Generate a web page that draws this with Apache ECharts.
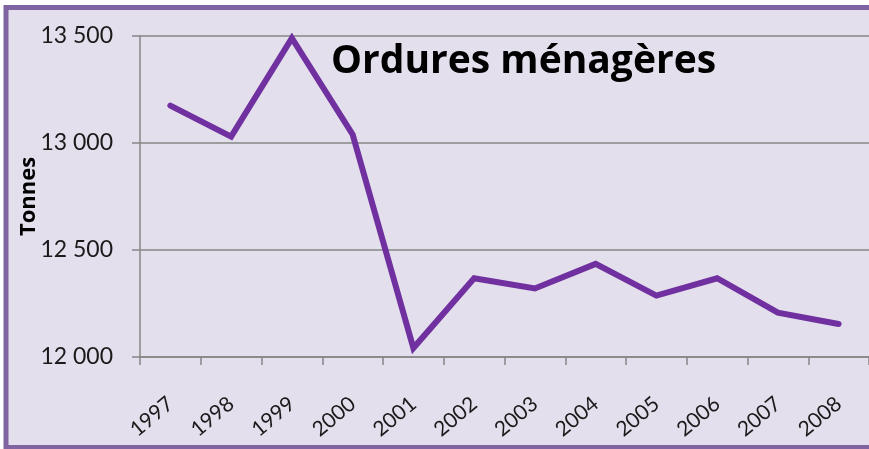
<!DOCTYPE html>
<html>
<head>
<meta charset="utf-8">
<script src="https://cdn.jsdelivr.net/npm/echarts@6/dist/echarts.min.js"></script>
<style>
  html, body { margin: 0; padding: 0; background: #ffffff; }
  #chart { width: 869px; height: 449px; }
</style>
</head>
<body>
<div id="chart"></div>
<script>
// Années et tonnages
const years = ['1997', '1998', '1999', '2000', '2001', '2002', '2003', '2004', '2005', '2006', '2007', '2008'];
const tonnes = [13175, 13030, 13490, 13040, 12042, 12368, 12320, 12435, 12287, 12368, 12207, 12154];
const yTicks = [12000, 12500, 13000, 13500];

const chartDom = document.getElementById('chart');
const myChart = echarts.init(chartDom, null, { renderer: 'canvas' });

// séparateur de milliers avec espace, comme dans Excel
function fmt (v) {
  return String(v).replace(/\B(?=(\d{3})+(?!\d))/g, ' ');
}

const option = {
  backgroundColor: '#ffffff',
  animation: false,
  graphic: [
    {
      type: 'rect',
      z: -10,
      shape: { x: 6, y: 7.5, width: 900, height: 440 },
      style: { fill: '#e4dfec', stroke: '#8064a2', lineWidth: 5 }
    }
  ],
  title: {
    text: 'Ordures ménagères',
    left: 331,
    top: 42,
    padding: 0,
    textStyle: {
      fontFamily: 'Open Sans',
      fontWeight: 'bold',
      fontSize: 39,
      color: '#000000'
    }
  },
  grid: {
    left: 140,
    right: -3,
    top: 36,
    bottom: 92
  },
  xAxis: {
    type: 'category',
    data: years,
    boundaryGap: true,
    axisLine: { lineStyle: { color: '#868686', width: 1.5 } },
    axisTick: { show: true, length: 8, lineStyle: { color: '#868686', width: 1.5 } },
    axisLabel: {
      rotate: 40,
      margin: 44,
      fontFamily: 'Lato',
      fontSize: 21,
      color: '#1a1a1a'
    },
    splitLine: { show: false }
  },
  yAxis: {
    type: 'value',
    min: yTicks[0],
    max: yTicks[yTicks.length - 1],
    interval: 500,
    name: 'Tonnes',
    nameLocation: 'middle',
    nameGap: 100,
    nameMoveOverlap: false,
    nameTextStyle: {
      fontFamily: 'Open Sans',
      fontWeight: 'bold',
      fontSize: 22,
      color: '#000000'
    },
    axisLine: { show: true, lineStyle: { color: '#868686', width: 1.5 } },
    axisTick: { show: true, length: 8, lineStyle: { color: '#868686', width: 1.5 } },
    axisLabel: {
      margin: 27,
      fontFamily: 'Lato',
      fontSize: 23,
      color: '#1a1a1a',
      formatter: fmt
    },
    splitLine: { show: true, lineStyle: { color: '#868686', width: 1.5 } }
  },
  series: [
    {
      type: 'line',
      data: tonnes,
      symbol: 'none',
      lineStyle: { color: '#7030a0', width: 6, cap: 'round', join: 'miter' }
    }
  ]
};

option && myChart.setOption(option);
</script>
</body>
</html>
